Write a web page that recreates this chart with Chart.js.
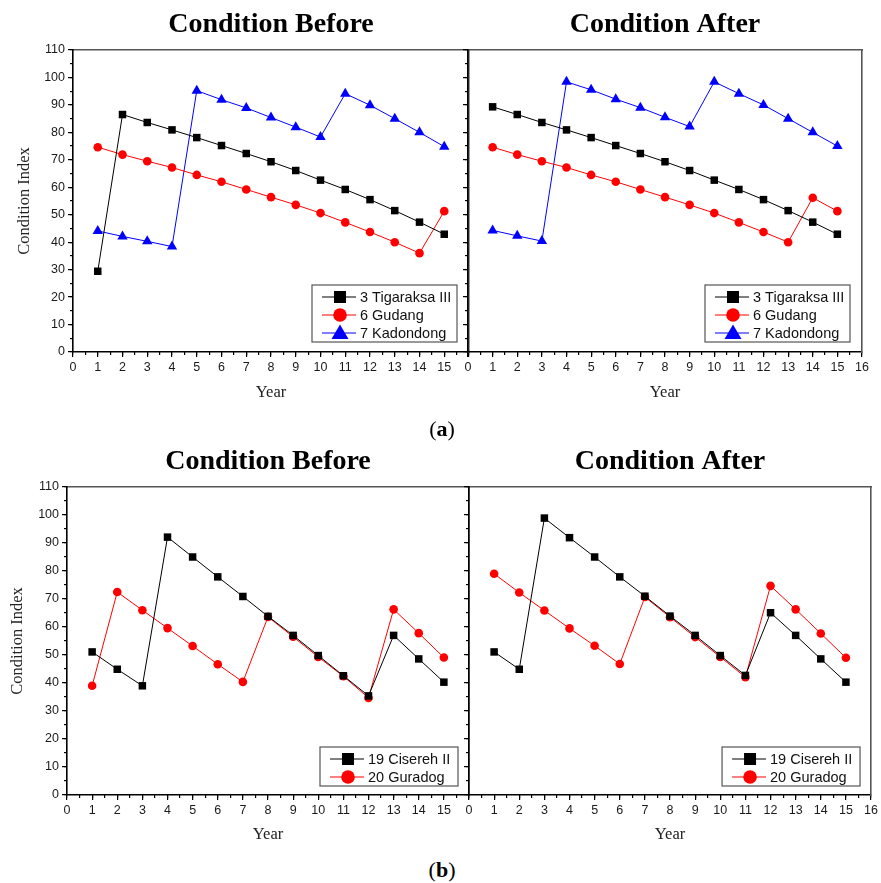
<!DOCTYPE html>
<html>
<head>
<meta charset="utf-8">
<script src="https://cdn.jsdelivr.net/npm/chart.js@4.4.1/dist/chart.umd.min.js"></script>
<style>
  body { margin: 0; background: #fff; width: 881px; height: 883px; position: relative; overflow: hidden; }
  canvas { position: absolute; }
  .tag { position: absolute; width: 60px; text-align: center; font-family: "Liberation Serif", serif; font-size: 22px; color: #000; }
</style>
</head>
<body>
<canvas id="aBefore" width="480" height="410" style="left:0px;top:0px"></canvas>
<canvas id="aAfter" width="431" height="410" style="left:450px;top:0px"></canvas>
<canvas id="bBefore" width="480" height="416" style="left:0px;top:437px"></canvas>
<canvas id="bAfter" width="431" height="416" style="left:450px;top:437px"></canvas>
<div class="tag" style="left:412px;top:416px">(<b>a</b>)</div>
<div class="tag" style="left:412px;top:857px">(<b>b</b>)</div>
<script>
// ---------------- data
const years = [1, 2, 3, 4, 5, 6, 7, 8, 9, 10, 11, 12, 13, 14, 15];
const xTicksMax = 16;
const yTicksMax = 110;

// (a) Condition Before
const tigaraksaBefore = [29.4, 86.5, 83.6, 80.9, 78.1, 75.2, 72.3, 69.3, 66.1, 62.6, 59.2, 55.5, 51.5, 47.3, 42.9];
const gudangBefore    = [74.6, 71.9, 69.5, 67.2, 64.5, 62.0, 59.2, 56.4, 53.6, 50.6, 47.2, 43.7, 40.0, 36.0, 51.3];
const kadondongBefore = [44.1, 42.1, 40.3, 38.4, 95.2, 91.9, 88.9, 85.4, 81.9, 78.3, 94.1, 89.9, 85.0, 80.0, 74.8];
// (a) Condition After
const tigaraksaAfter  = [89.3, 86.5, 83.6, 80.9, 78.1, 75.2, 72.3, 69.3, 66.1, 62.6, 59.2, 55.5, 51.5, 47.3, 42.9];
const gudangAfter     = [74.6, 71.9, 69.5, 67.2, 64.5, 62.0, 59.2, 56.4, 53.6, 50.6, 47.2, 43.7, 40.0, 56.2, 51.3];
const kadondongAfter  = [44.3, 42.3, 40.4, 98.4, 95.5, 92.1, 89.0, 85.5, 82.1, 98.4, 94.1, 90.0, 85.0, 80.0, 75.0];
// (b) Condition Before
const ciserehBefore   = [51.1, 44.9, 39.0, 92.1, 85.0, 77.9, 70.9, 63.8, 57.0, 49.8, 42.6, 35.4, 57.0, 48.6, 40.3];
const guradogBefore   = [39.0, 72.5, 66.0, 59.6, 53.2, 46.7, 40.4, 63.6, 56.5, 49.3, 42.4, 34.7, 66.3, 57.8, 49.1];
// (b) Condition After
const ciserehAfter    = [51.1, 44.9, 98.9, 91.9, 85.0, 77.9, 71.0, 63.9, 57.0, 49.8, 42.7, 65.1, 57.0, 48.6, 40.3];
const guradogAfter    = [79.0, 72.3, 65.9, 59.5, 53.3, 46.8, 70.7, 63.5, 56.4, 49.3, 42.1, 74.7, 66.3, 57.7, 49.0];

// ---------------- styles
const SANS = '"Liberation Sans", Arial, sans-serif';
const SERIF = '"Liberation Serif", "Times New Roman", serif';
const black = { color: '#000000', shape: 'rect', radius: 5.3 };
const red   = { color: '#ff0000', shape: 'circle', radius: 4.3 };
const blue  = { color: '#0000ff', shape: 'triangle', radius: 6 };

function toPoints(vals) {
  return vals.map((v, i) => ({ x: years[i], y: v }));
}

// legend drawn inside the plot, line + marker + text like the original
function legendMarker(ctx, shape, x, y, color) {
  ctx.fillStyle = color;
  ctx.beginPath();
  if (shape === 'rect') {
    ctx.rect(x - 6, y - 6, 12, 12);
  } else if (shape === 'circle') {
    ctx.arc(x, y, 6.8, 0, Math.PI * 2);
  } else {
    ctx.moveTo(x, y - 8.5);
    ctx.lineTo(x + 8.5, y + 6);
    ctx.lineTo(x - 8.5, y + 6);
    ctx.closePath();
  }
  ctx.fill();
}

const boxLegend = {
  id: 'boxLegend',
  afterDraw(chart, args, opts) {
    const a = chart.chartArea, ctx = chart.ctx;
    const right = a.right - opts.gapRight, bottom = a.bottom - opts.gapBottom;
    const left = right - opts.width, top = bottom - opts.height;
    ctx.save();
    ctx.strokeStyle = '#555';
    ctx.lineWidth = 1.2;
    ctx.strokeRect(left, top, opts.width, opts.height);
    chart.data.datasets.forEach((ds, i) => {
      const y = top + 12 + i * 18;
      ctx.strokeStyle = ds.borderColor;
      ctx.lineWidth = 1;
      ctx.beginPath();
      ctx.moveTo(left + 10, y);
      ctx.lineTo(left + 44, y);
      ctx.stroke();
      legendMarker(ctx, ds.pointStyle, left + 28, y, ds.borderColor);
      ctx.fillStyle = '#111';
      ctx.font = '14.5px ' + SANS;
      ctx.textBaseline = 'middle';
      ctx.textAlign = 'left';
      ctx.fillText(ds.label, left + 48, y + 1);
    });
    ctx.restore();
  }
};

function makePanel(id, p) {
  const datasets = p.series.map(s => ({
    label: s.label,
    data: toPoints(s.values),
    showLine: true,
    borderColor: s.style.color,
    backgroundColor: s.style.color,
    borderWidth: 1,
    pointStyle: s.style.shape,
    pointRadius: s.style.radius,
    pointBorderWidth: 0,
    tension: 0
  }));
  const tickFont = { family: SANS, size: 12.5 };
  new Chart(document.getElementById(id), {
    type: 'scatter',
    data: { datasets: datasets },
    plugins: [boxLegend],
    options: {
      responsive: false,
      animation: false,
      layout: { padding: { left: p.padLeft, right: p.padRight, top: 0, bottom: 0 } },
      plugins: {
        legend: { display: false },
        tooltip: { enabled: false },
        title: {
          display: true, text: p.title, fullSize: false, color: '#000',
          font: { family: SERIF, size: 28, weight: 'bold', lineHeight: 1.2 },
          padding: { top: 8.2, bottom: 8.2 }
        },
        boxLegend: p.legend
      },
      scales: {
        x: {
          type: 'linear', position: 'bottom', min: 0, max: xTicksMax,
          ticks: {
            stepSize: 1, autoSkip: false, maxRotation: 0, padding: 3, color: '#1a1a1a', font: tickFont,
            callback: v => (v > p.lastXLabel ? '' : v)
          },
          grid: { drawOnChartArea: false, tickLength: 5, color: '#000', lineWidth: 1.2 },
          border: { color: '#000', width: 1.6 },
          title: { display: true, text: 'Year', color: '#222', font: { family: SERIF, size: 16.5 }, padding: { top: 0, bottom: p.yearPad } },
          afterFit: s => { s.height = 58; }
        },
        xMinor: {
          type: 'linear', position: 'bottom', weight: -1, min: 0, max: xTicksMax,
          ticks: { stepSize: 0.5, display: false, autoSkip: false },
          grid: { drawOnChartArea: false, tickLength: 3, color: '#000', lineWidth: 1.2 },
          border: { display: false },
          afterFit: s => { s.height = 0; }
        },
        xTop: {
          type: 'linear', position: 'top', min: 0, max: xTicksMax,
          ticks: { display: false },
          grid: { drawOnChartArea: false, drawTicks: false },
          border: { color: '#555', width: 1.6 },
          afterFit: s => { s.height = 0; }
        },
        y: {
          type: 'linear', position: 'left', min: 0, max: yTicksMax,
          ticks: { stepSize: 10, display: p.yLabels, padding: 3, color: '#1a1a1a', font: tickFont },
          grid: { drawOnChartArea: false, tickLength: 5, color: '#000', lineWidth: 1.2 },
          border: { color: '#000', width: 1.6 },
          title: { display: p.yLabels, text: 'Condition Index', color: '#222', font: { family: SERIF, size: 16.5 }, padding: { top: p.yTitlePad, bottom: 0 } },
          afterFit: s => { s.width = p.yWidth; }
        },
        yMinor: {
          type: 'linear', position: 'left', weight: -1, min: 0, max: yTicksMax,
          ticks: { stepSize: 5, display: false },
          grid: { drawOnChartArea: false, tickLength: 3, color: '#000', lineWidth: 1.2 },
          border: { display: false },
          afterFit: s => { s.width = 0; }
        },
        yRight: {
          type: 'linear', position: 'right', min: 0, max: yTicksMax,
          ticks: { display: false },
          grid: { drawOnChartArea: false, drawTicks: false },
          border: { color: '#555', width: 1.6 },
          afterFit: s => { s.width = 0; }
        }
      }
    }
  });
}

const legendA = { gapRight: 12, gapBottom: 10, width: 145, height: 57 };
const legendB = { gapRight: 11, gapBottom: 9, width: 138, height: 39 };

makePanel('aBefore', {
  title: 'Condition Before', padLeft: 0, padRight: 11, yWidth: 73, yLabels: true, yTitlePad: 15,
  yearPad: 7, lastXLabel: 15, legend: legendA,
  series: [
    { label: '3 Tigaraksa III', values: tigaraksaBefore, style: black },
    { label: '6 Gudang', values: gudangBefore, style: red },
    { label: '7 Kadondong', values: kadondongBefore, style: blue }
  ]
});
makePanel('aAfter', {
  title: 'Condition After', padLeft: 18, padRight: 19, yWidth: 0, yLabels: false, yTitlePad: 0,
  yearPad: 7, lastXLabel: 16, legend: legendA,
  series: [
    { label: '3 Tigaraksa III', values: tigaraksaAfter, style: black },
    { label: '6 Gudang', values: gudangAfter, style: red },
    { label: '7 Kadondong', values: kadondongAfter, style: blue }
  ]
});
makePanel('bBefore', {
  title: 'Condition Before', padLeft: 0, padRight: 11, yWidth: 67, yLabels: true, yTitlePad: 8,
  yearPad: 8, lastXLabel: 15, legend: legendB,
  series: [
    { label: '19 Cisereh II', values: ciserehBefore, style: black },
    { label: '20 Guradog', values: guradogBefore, style: red }
  ]
});
makePanel('bAfter', {
  title: 'Condition After', padLeft: 19, padRight: 9, yWidth: 0, yLabels: false, yTitlePad: 0,
  yearPad: 8, lastXLabel: 16, legend: legendB,
  series: [
    { label: '19 Cisereh II', values: ciserehAfter, style: black },
    { label: '20 Guradog', values: guradogAfter, style: red }
  ]
});
</script>
</body>
</html>
